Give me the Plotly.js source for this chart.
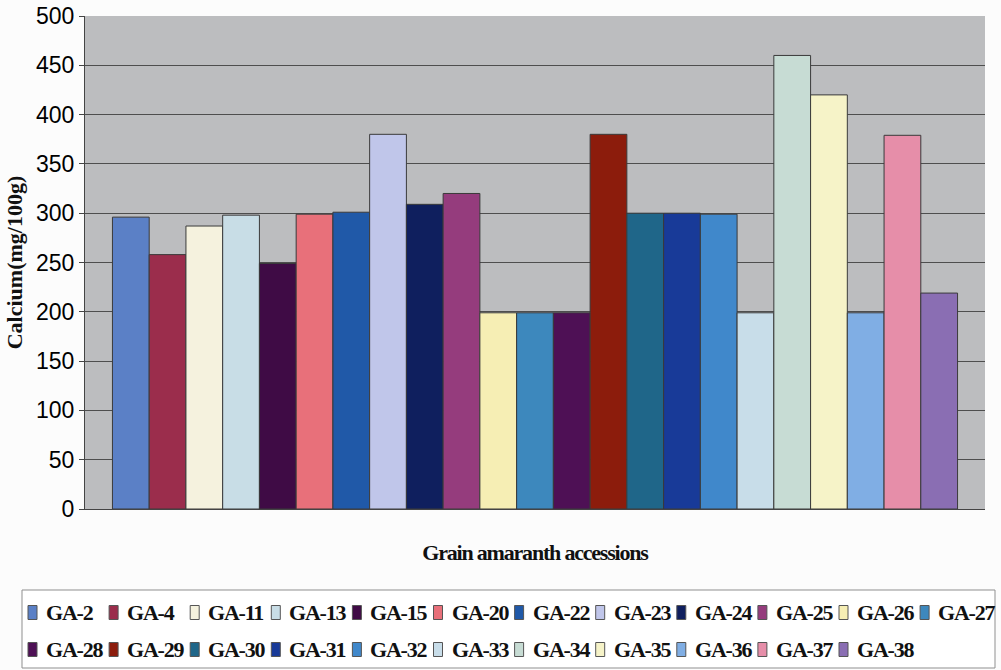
<!DOCTYPE html>
<html>
<head>
<meta charset="utf-8">
<script src="https://cdn.plot.ly/plotly-3.0.1.min.js"></script>
<style>
  html, body { margin: 0; padding: 0; background: #fcfcfc; }
  #chart { width: 1001px; height: 670px; }
  .xtitle { letter-spacing: -1.2px; }
  .annotation-text { letter-spacing: -1.2px; }
</style>
</head>
<body>
<div id="chart"></div>
<script>
// Calcium content of grain amaranth accessions (mg/100g)
const accessions = ['GA-2', 'GA-4', 'GA-11', 'GA-13', 'GA-15', 'GA-20', 'GA-22', 'GA-23',
  'GA-24', 'GA-25', 'GA-26', 'GA-27', 'GA-28', 'GA-29', 'GA-30', 'GA-31', 'GA-32',
  'GA-33', 'GA-34', 'GA-35', 'GA-36', 'GA-37', 'GA-38'];
const calcium = [296, 258, 287, 298, 249, 299, 301, 380,
  309, 320, 199, 199, 199, 380, 300, 300, 299,
  199, 460, 420, 199, 379, 219];
const yTicks = [0, 50, 100, 150, 200, 250, 300, 350, 400, 450, 500];

// one fill colour per accession
const palette = ['#5b80c6', '#9b2d4c', '#f5f2de', '#c8dde6', '#3f0b45', '#e8707a', '#2059a8', '#c0c6ea',
  '#0f1f5e', '#953c7d', '#f6eeb4', '#3d88bd', '#4e1055', '#8c1c0c', '#1f6689', '#183a98', '#4088cb',
  '#c8dde9', '#c7dcd4', '#f6f3c8', '#80aee4', '#e68ea9', '#8a6eb3'];

const category = 'Grain amaranth accessions';

// page geometry
const W = 1001, H = 670;
const M = { l: 85, r: 16, t: 16, b: 161 };
const plotW = W - M.l - M.r, plotH = H - M.t - M.b;
const px2x = px => (px - M.l) / plotW;          // pixel column -> paper x
const py2y = py => (H - M.b - py) / plotH;      // pixel row -> paper y

const traces = accessions.map((name, i) => ({
  type: 'bar',
  name: name,
  x: [category],
  y: [calcium[i]],
  marker: { color: palette[i], line: { color: '#3a3a3a', width: 1 } },
  hovertemplate: name + ': %{y} mg/100g<extra></extra>'
}));

// key below the chart: boxed, two rows of twelve entries
const key = { left: 22, top: 590, right: 995, bottom: 668,
  firstSwatch: 28, step: 81.1, perRow: 12, rows: [612.5, 649.5],
  swW: 9, swH: 14, textGap: 16 };

const shapes = [{
  type: 'rect', xref: 'paper', yref: 'paper',
  x0: px2x(key.left), x1: px2x(key.right), y0: py2y(key.bottom), y1: py2y(key.top),
  fillcolor: '#ffffff', line: { color: '#8f8f8f', width: 1 }, layer: 'above'
}];
const annotations = [];
accessions.forEach((name, i) => {
  const col = i % key.perRow, row = Math.floor(i / key.perRow);
  const sx = key.firstSwatch + col * key.step, cy = key.rows[row];
  shapes.push({
    type: 'rect', xref: 'paper', yref: 'paper',
    x0: px2x(sx), x1: px2x(sx + key.swW),
    y0: py2y(cy + key.swH / 2), y1: py2y(cy - key.swH / 2),
    fillcolor: palette[i], line: { color: '#555555', width: 1 }, layer: 'above'
  });
  annotations.push({
    xref: 'paper', yref: 'paper',
    x: px2x(sx + key.textGap), y: py2y(cy),
    xanchor: 'left', yanchor: 'middle',
    text: name, showarrow: false,
    font: { family: 'Liberation Serif, Times New Roman, serif', size: 22, color: '#111', weight: 'bold' }
  });
});

const layout = {
  width: W,
  height: H,
  margin: M,
  paper_bgcolor: '#fcfcfc',
  plot_bgcolor: '#bcbdbf',
  barmode: 'group',
  bargap: 0.061,
  bargroupgap: 0,
  showlegend: false,
  shapes: shapes,
  annotations: annotations,
  xaxis: {
    showticklabels: false,
    ticks: '',
    showgrid: false,
    showline: true,
    linecolor: '#444',
    linewidth: 1,
    title: {
      text: 'Grain amaranth accessions',
      font: { family: 'Liberation Serif, Times New Roman, serif', size: 22, color: '#111', weight: 'bold' },
      standoff: 35
    }
  },
  yaxis: {
    range: [0, 500],
    tickvals: yTicks,
    ticktext: yTicks.map(String),
    ticks: 'outside',
    ticklen: 5,
    tickcolor: '#444',
    ticklabelstandoff: 0,
    tickfont: { family: 'Liberation Sans Narrow, Arial Narrow, Liberation Sans, Arial, sans-serif', size: 23, color: '#000' },
    showgrid: true,
    gridcolor: '#4e4e4e',
    gridwidth: 1,
    showline: true,
    linecolor: '#444',
    linewidth: 1,
    zeroline: false,
    title: {
      text: 'Calcium(mg/100g)',
      font: { family: 'Liberation Serif, Times New Roman, serif', size: 22, color: '#111', weight: 'bold' },
      standoff: 7
    }
  }
};

Plotly.newPlot('chart', traces, layout, { displayModeBar: false, responsive: false });
</script>
</body>
</html>
